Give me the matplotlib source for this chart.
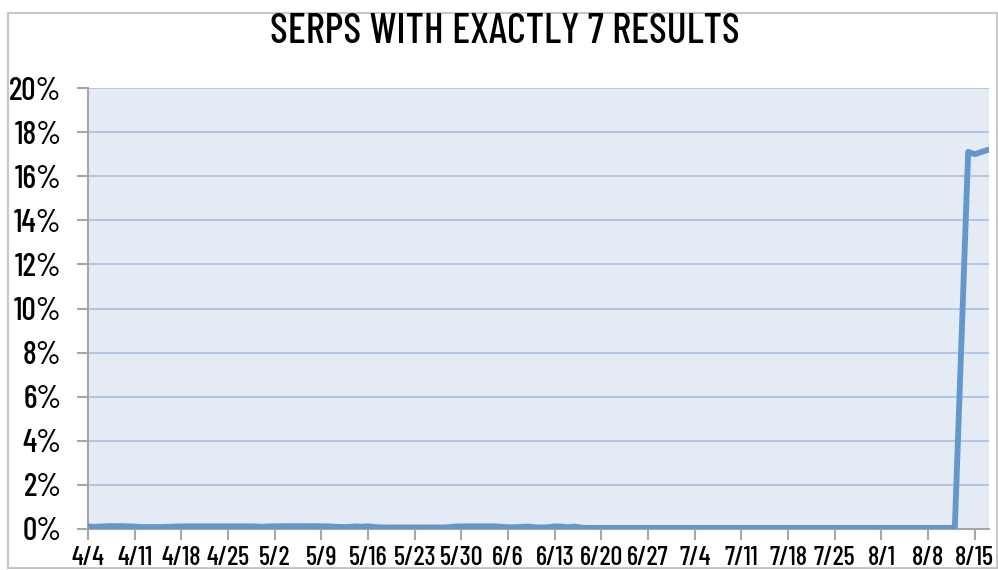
import numpy as np
import matplotlib.pyplot as plt
from matplotlib import font_manager
from matplotlib.patches import Rectangle

names = set(f.name for f in font_manager.fontManager.ttflist)
narrow = 'Barlow Condensed' if 'Barlow Condensed' in names else 'DejaVu Sans'

# Data: share of SERPs with exactly 7 results (%), daily from 4/4 to 8/12
flat_start = np.datetime64('2012-04-04')
flat_vals = [
    0.12, 0.10, 0.11, 0.13, 0.13, 0.13, 0.12,
    0.11, 0.09, 0.09, 0.09, 0.09, 0.10, 0.11,
    0.12, 0.12, 0.12, 0.12, 0.12, 0.12, 0.12,
    0.12, 0.12, 0.12, 0.12, 0.12, 0.10, 0.12,
    0.12, 0.13, 0.13, 0.13, 0.13, 0.13, 0.13,
    0.12, 0.12, 0.10, 0.09, 0.09, 0.12, 0.10,
    0.12, 0.09, 0.07, 0.07, 0.07, 0.07, 0.07,
    0.07, 0.07, 0.07, 0.07, 0.07, 0.08, 0.11,
    0.12, 0.12, 0.12, 0.12, 0.12, 0.12, 0.10,
    0.08, 0.08, 0.10, 0.11, 0.08, 0.07, 0.08,
    0.12, 0.11, 0.08, 0.11, 0.06, 0.05, 0.05,
    0.05, 0.05, 0.05, 0.05, 0.05, 0.05, 0.05,
    0.05, 0.05, 0.05, 0.05, 0.05, 0.05, 0.05,
    0.05, 0.05, 0.05, 0.05, 0.05, 0.05, 0.05,
    0.05, 0.05, 0.05, 0.05, 0.05, 0.05, 0.05,
    0.05, 0.05, 0.05, 0.05, 0.05, 0.05, 0.05,
    0.05, 0.05, 0.05, 0.05, 0.05, 0.05, 0.05,
    0.05, 0.05, 0.05, 0.05, 0.05, 0.05, 0.05,
    0.05, 0.05, 0.05, 0.05, 0.05,
]
spike_dates = ['2012-08-14', '2012-08-15', '2012-08-16', '2012-08-17']
spike_vals = [17.1, 17.0, 17.1, 17.2]

dates = list(flat_start + np.arange(len(flat_vals))) + [np.datetime64(d) for d in spike_dates]
vals = flat_vals + spike_vals

tick_labels = ['4/4', '4/11', '4/18', '4/25', '5/2', '5/9', '5/16', '5/23', '5/30', '6/6',
               '6/13', '6/20', '6/27', '7/4', '7/11', '7/18', '7/25', '8/1', '8/8', '8/15']
tick_dates = [np.datetime64('2012-%02d-%02d' % (int(t.split('/')[0]), int(t.split('/')[1])))
              for t in tick_labels]

fig = plt.figure(figsize=(9.98, 5.7), dpi=100)
fig.patches.append(Rectangle((8 / 998, 2 / 570), 989 / 998, 555 / 570, transform=fig.transFigure,
                             fill=False, edgecolor='#c8c8c8', lw=1.5))
ax = fig.add_axes([88 / 998, 1 - 529 / 570, 901 / 998, 441 / 570])
ax.set_facecolor('#e4ebf5')

ax.plot(np.array(dates, dtype='datetime64[D]'), vals, color='#6498cc', lw=4.2,
        solid_capstyle='round', solid_joinstyle='round', zorder=3)

ax.set_ylim(0, 20)
ax.set_yticks(range(0, 21, 2))
ax.set_yticklabels(['%d%%' % v for v in range(0, 21, 2)])
ax.set_xlim(np.datetime64('2012-04-04'), np.datetime64('2012-08-17') + np.timedelta64(3, 'h'))
ax.set_xticks(np.array(tick_dates, dtype='datetime64[D]'))
ax.set_xticklabels(tick_labels)

ax.grid(axis='y', color='#a9c0e2', lw=1.2)
ax.set_axisbelow(True)
for s in ['top', 'right']:
    ax.spines[s].set_visible(False)
for s in ['left', 'bottom']:
    ax.spines[s].set_color('#a6a6a6')
    ax.spines[s].set_linewidth(1.5)
ax.tick_params(axis='both', color='#a6a6a6', width=1.5, length=8)
ax.tick_params(axis='y', labelsize=23, pad=11)
ax.tick_params(axis='x', labelsize=19, pad=4)
for lab in ax.get_yticklabels() + ax.get_xticklabels():
    lab.set_family(narrow)
    lab.set_weight('medium')

fig.text(0.506, 1 - 32 / 570, 'SERPS WITH EXACTLY 7 RESULTS', ha='center', va='center',
         fontsize=30, family=narrow, weight='medium', color='black')

fig.savefig('out.png', dpi=100)
